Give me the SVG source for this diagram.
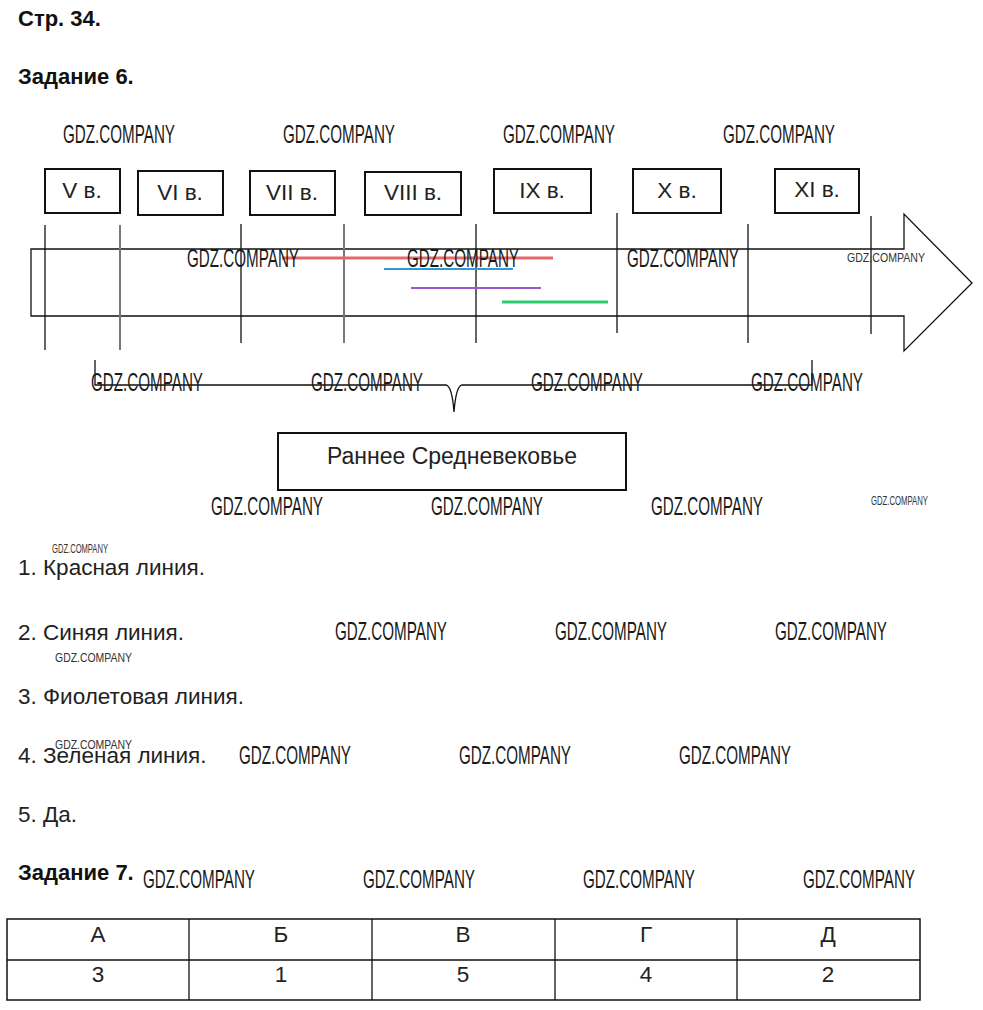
<svg xmlns="http://www.w3.org/2000/svg" width="983" height="1010" viewBox="0 0 983 1010">
<style>
.h{font-family:"Liberation Sans",Arial,sans-serif;font-weight:bold;font-size:22px;fill:#111}
.t{font-family:"Liberation Sans",Arial,sans-serif;font-size:22.5px;fill:#222}
.c{font-family:"Liberation Sans",Arial,sans-serif;font-size:22.5px;fill:#222;text-anchor:middle}
.d{font-family:"Liberation Sans",Arial,sans-serif;font-size:23px;fill:#222;text-anchor:middle}
.w{font-family:"Liberation Sans",Arial,sans-serif;font-size:25px;fill:#1a1a1a}
.ws{font-family:"Liberation Sans",Arial,sans-serif;font-size:13px;fill:#333}
.box{fill:#fff;stroke:#111;stroke-width:2}
.ln{stroke:#111;stroke-width:1.3;fill:none}
.gl{stroke:#777;stroke-width:2;fill:none}
</style>
<rect width="983" height="1010" fill="#fff"/>
<text class="h" x="18" y="26">Стр. 34.</text>
<text class="h" x="18" y="84">Задание 6.</text>

<g id="arrow">
<polygon class="ln" points="31,249 904,249 904,214 972,283 904,351 904,316 31,316"/>
</g>
<g id="ticks">
<line class="ln" x1="45" y1="225" x2="45" y2="350"/>
<line class="gl" x1="120" y1="225" x2="120" y2="350"/>
<line class="ln" x1="241" y1="224" x2="241" y2="343"/>
<line class="gl" x1="344" y1="224" x2="344" y2="343"/>
<line class="ln" x1="476" y1="224" x2="476" y2="343"/>
<line class="ln" x1="617" y1="213" x2="617" y2="333"/>
<line class="ln" x1="748" y1="224" x2="748" y2="343"/>
<line class="ln" x1="871" y1="216" x2="871" y2="334"/>
</g>
<g id="connectors">
<line x1="282" y1="258" x2="553" y2="258" stroke="#e8696b" stroke-width="3"/>
<line x1="384" y1="269" x2="513" y2="269" stroke="#2e9bd6" stroke-width="2.2"/>
<line x1="411" y1="288" x2="541" y2="288" stroke="#9b59d0" stroke-width="2.2"/>
<line x1="502" y1="302" x2="608" y2="302" stroke="#2ecc71" stroke-width="3"/>
<path class="ln" d="M95,360 L95,385 L446,385 Q452,386 454,412 Q456,386 462,385 L812,385 L812,360"/>
</g>

<g id="n-V"><rect class="box" x="45" y="169" width="75" height="44"/><text class="c" x="82" y="198">V в.</text></g>
<g id="n-VI"><rect class="box" x="138" y="171" width="85" height="44"/><text class="c" x="180" y="200">VI в.</text></g>
<g id="n-VII"><rect class="box" x="250" y="171" width="85" height="44"/><text class="c" x="292" y="200">VII в.</text></g>
<g id="n-VIII"><rect class="box" x="365" y="172" width="96" height="43"/><text class="c" x="413" y="200">VIII в.</text></g>
<g id="n-IX"><rect class="box" x="494" y="169" width="97" height="44"/><text class="c" x="542" y="198">IX в.</text></g>
<g id="n-X"><rect class="box" x="633" y="169" width="88" height="44"/><text class="c" x="677" y="198">X в.</text></g>
<g id="n-XI"><rect class="box" x="775" y="169" width="84" height="44"/><text class="c" x="817" y="197">XI в.</text></g>
<g id="n-early"><rect class="box" x="278" y="433" width="348" height="57"/><text class="d" x="452" y="464">Раннее Средневековье</text></g>

<text class="t" x="18" y="575">1. Красная линия.</text>
<text class="t" x="18" y="640">2. Синяя линия.</text>
<text class="t" x="18" y="704">3. Фиолетовая линия.</text>
<text class="t" x="18" y="763">4. Зеленая линия.</text>
<text class="t" x="18" y="822">5. Да.</text>
<text class="h" x="18" y="880">Задание 7.</text>

<g id="table">
<rect x="7" y="919" width="913" height="81" fill="none" stroke="#111" stroke-width="1.5"/>
<line class="ln" x1="7" y1="960" x2="920" y2="960"/>
<line class="ln" x1="189" y1="919" x2="189" y2="1000"/>
<line class="ln" x1="372" y1="919" x2="372" y2="1000"/>
<line class="ln" x1="555" y1="919" x2="555" y2="1000"/>
<line class="ln" x1="737" y1="919" x2="737" y2="1000"/>
<text class="c" x="98" y="942">А</text>
<text class="c" x="281" y="942">Б</text>
<text class="c" x="463" y="942">В</text>
<text class="c" x="646" y="942">Г</text>
<text class="c" x="828" y="942">Д</text>
<text class="c" x="98" y="982">3</text>
<text class="c" x="281" y="982">1</text>
<text class="c" x="463" y="982">5</text>
<text class="c" x="646" y="982">4</text>
<text class="c" x="828" y="982">2</text>
</g>

<g id="watermarks">
<text class="w" x="63" y="143" textLength="112" lengthAdjust="spacingAndGlyphs">GDZ.COMPANY</text>
<text class="w" x="283" y="143" textLength="112" lengthAdjust="spacingAndGlyphs">GDZ.COMPANY</text>
<text class="w" x="503" y="143" textLength="112" lengthAdjust="spacingAndGlyphs">GDZ.COMPANY</text>
<text class="w" x="723" y="143" textLength="112" lengthAdjust="spacingAndGlyphs">GDZ.COMPANY</text>
<text class="w" x="187" y="267" textLength="112" lengthAdjust="spacingAndGlyphs">GDZ.COMPANY</text>
<text class="w" x="407" y="267" textLength="112" lengthAdjust="spacingAndGlyphs">GDZ.COMPANY</text>
<text class="w" x="627" y="267" textLength="112" lengthAdjust="spacingAndGlyphs">GDZ.COMPANY</text>
<text class="ws" x="847" y="262" font-size="17" textLength="78" lengthAdjust="spacingAndGlyphs">GDZ.COMPANY</text>
<text class="w" x="91" y="391" textLength="112" lengthAdjust="spacingAndGlyphs">GDZ.COMPANY</text>
<text class="w" x="311" y="391" textLength="112" lengthAdjust="spacingAndGlyphs">GDZ.COMPANY</text>
<text class="w" x="531" y="391" textLength="112" lengthAdjust="spacingAndGlyphs">GDZ.COMPANY</text>
<text class="w" x="751" y="391" textLength="112" lengthAdjust="spacingAndGlyphs">GDZ.COMPANY</text>
<text class="w" x="211" y="515" textLength="112" lengthAdjust="spacingAndGlyphs">GDZ.COMPANY</text>
<text class="w" x="431" y="515" textLength="112" lengthAdjust="spacingAndGlyphs">GDZ.COMPANY</text>
<text class="w" x="651" y="515" textLength="112" lengthAdjust="spacingAndGlyphs">GDZ.COMPANY</text>
<text class="ws" x="871" y="505" font-size="12" textLength="57" lengthAdjust="spacingAndGlyphs">GDZ.COMPANY</text>
<text class="ws" x="52" y="553" font-size="12" textLength="56" lengthAdjust="spacingAndGlyphs">GDZ.COMPANY</text>
<text class="w" x="335" y="640" textLength="112" lengthAdjust="spacingAndGlyphs">GDZ.COMPANY</text>
<text class="w" x="555" y="640" textLength="112" lengthAdjust="spacingAndGlyphs">GDZ.COMPANY</text>
<text class="w" x="775" y="640" textLength="112" lengthAdjust="spacingAndGlyphs">GDZ.COMPANY</text>
<text class="ws" x="55" y="662" font-size="17" textLength="77" lengthAdjust="spacingAndGlyphs">GDZ.COMPANY</text>
<text class="ws" x="55" y="749" font-size="17" textLength="77" lengthAdjust="spacingAndGlyphs">GDZ.COMPANY</text>
<text class="w" x="239" y="764" textLength="112" lengthAdjust="spacingAndGlyphs">GDZ.COMPANY</text>
<text class="w" x="459" y="764" textLength="112" lengthAdjust="spacingAndGlyphs">GDZ.COMPANY</text>
<text class="w" x="679" y="764" textLength="112" lengthAdjust="spacingAndGlyphs">GDZ.COMPANY</text>
<text class="w" x="143" y="888" textLength="112" lengthAdjust="spacingAndGlyphs">GDZ.COMPANY</text>
<text class="w" x="363" y="888" textLength="112" lengthAdjust="spacingAndGlyphs">GDZ.COMPANY</text>
<text class="w" x="583" y="888" textLength="112" lengthAdjust="spacingAndGlyphs">GDZ.COMPANY</text>
<text class="w" x="803" y="888" textLength="112" lengthAdjust="spacingAndGlyphs">GDZ.COMPANY</text>
</g>
</svg>
